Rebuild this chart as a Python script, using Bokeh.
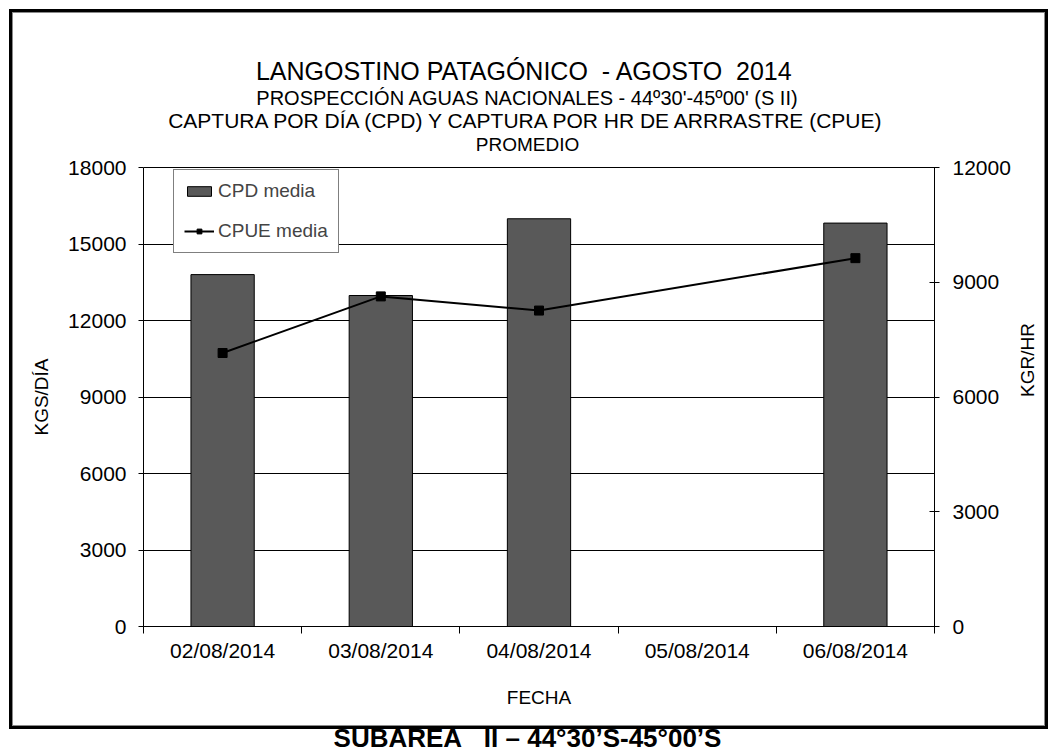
import math
import numpy as np
from bokeh.plotting import figure
from bokeh.models import (Range1d, LinearAxis, FixedTicker, Legend, LegendItem,
                          ColumnDataSource, Title, InlineStyleSheet)
from bokeh.embed import file_html
from bokeh.resources import INLINE

# ---------------- data ----------------
dates = ["02/08/2014", "03/08/2014", "04/08/2014", "05/08/2014", "06/08/2014"]
cpd_media = [13800, 12980, 15990, None, 15820]      # KGS/DÍA (left axis)
cpue_media = [7150, 8630, 8260, None, 9630]         # KGR/HR (right axis)
left_ticks = [0, 3000, 6000, 9000, 12000, 15000, 18000]
right_ticks = [0, 3000, 6000, 9000, 12000]

NB = "\u00a0"
title_lines = ["LANGOSTINO PATAGÓNICO" + NB + " - AGOSTO" + NB + " 2014",
               "PROSPECCIÓN AGUAS NACIONALES - 44º30'-45º00' (S II)",
               "CAPTURA POR DÍA (CPD) Y CAPTURA POR HR DE ARRRASTRE (CPUE)",
               "PROMEDIO"]
footer = "SUBAREA" + NB + NB + " II – 44°30’S-45°00’S"

FONT = "Liberation Sans"
TICK_FS = "21px"
AXLAB_FS = "19px"

# Arial/Liberation Sans advance widths (1/1000 em) used to centre the titles
_W = {" ": 278, NB: 278, "(": 333, ")": 333, "'": 191, "-": 333, "/": 278, "º": 365,
      "°": 400, "’": 222, "–": 556, "Ó": 778, "Í": 278}
_W.update({d: 556 for d in "0123456789"})
_W.update(dict(zip("ABCDEFGHIJKLMNOPQRSTUVWXYZ",
                   [667, 667, 722, 722, 667, 611, 778, 722, 278, 500, 667, 556, 833,
                    722, 778, 667, 778, 722, 667, 611, 722, 667, 944, 667, 667, 611])))
_WB = dict(_W)
_WB.update({"B": 722, "A": 722, "R": 722, "U": 722, "’": 278})


def text_width(t, size, table=_W):
    return sum(table.get(c, 600) for c in t) * size / 1000.0


# ---------------- figure ----------------
W, H = 1051, 753
FL, FR, FT, FB = 143, 937, 167, 626   # frame edges in pixels
CENTER_X = 527                         # centre of the titles

centers = [i + 0.5 for i in range(len(dates))]
cpd_arr = np.array([np.nan if v is None else v for v in cpd_media], dtype=float)
bar_src = ColumnDataSource(dict(x=centers, top=cpd_arr))
line_src = ColumnDataSource(dict(
    x=[c for c, v in zip(centers, cpue_media) if v is not None],
    y=[v for v in cpue_media if v is not None]))

p = figure(width=W, height=H, output_backend="svg", toolbar_location=None,
           x_range=Range1d(0, len(dates)), y_range=Range1d(0, 18000),
           min_border_left=FL, min_border_right=W - FR,
           min_border_top=FT, min_border_bottom=H - FB)
p.extra_y_ranges = {"cpue": Range1d(0, 12000)}
p.background_fill_color = "white"
p.border_fill_color = "white"
p.outline_line_color = "black"
p.outline_line_width = 1

# grid
p.xgrid.grid_line_color = None
p.ygrid.ticker = FixedTicker(ticks=left_ticks)
p.ygrid.grid_line_color = "black"
p.ygrid.grid_line_width = 1

# bars
bars = p.vbar(x="x", top="top", width=0.4, source=bar_src,
              fill_color="#595959", line_color="black", line_width=1)
# line
ln = p.line(x="x", y="y", source=line_src, y_range_name="cpue",
            line_color="black", line_width=2)
mk = p.scatter(x="x", y="y", source=line_src, y_range_name="cpue",
               marker="square", size=9, fill_color="black", line_color="black")

# x axis
xa = p.xaxis[0]
xa.ticker = FixedTicker(ticks=centers, minor_ticks=list(range(len(dates) + 1)))
xa.major_label_overrides = {c: d for c, d in zip(centers, dates)}
xa.major_tick_in = 0
xa.major_tick_out = 0
xa.minor_tick_in = 0
xa.minor_tick_out = 7
xa.minor_tick_line_color = "black"
xa.axis_line_color = "black"
xa.major_label_standoff = 5
xa.major_label_text_font = FONT
xa.major_label_text_font_size = TICK_FS
xa.major_label_text_color = "black"
xa.axis_label = "FECHA"
xa.axis_label_text_font = FONT
xa.axis_label_text_font_size = AXLAB_FS
xa.axis_label_text_font_style = "normal"
xa.axis_label_text_color = "black"
xa.axis_label_standoff = 22

# left axis
ya = p.yaxis[0]
ya.ticker = FixedTicker(ticks=left_ticks)
ya.major_tick_in = 0
ya.major_tick_out = 5
ya.minor_tick_out = 0
ya.minor_tick_in = 0
ya.major_tick_line_color = "black"
ya.axis_line_color = "black"
ya.major_label_standoff = 12
ya.major_label_text_font = FONT
ya.major_label_text_font_size = TICK_FS
ya.major_label_text_color = "black"
ya.axis_label = "KGS/DÍA"
ya.axis_label_text_font = FONT
ya.axis_label_text_font_size = AXLAB_FS
ya.axis_label_text_font_style = "normal"
ya.axis_label_text_color = "black"
ya.axis_label_standoff = 13

# right axis
ra = LinearAxis(y_range_name="cpue", ticker=FixedTicker(ticks=right_ticks),
                major_tick_in=5, major_tick_out=5, minor_tick_in=0, minor_tick_out=0,
                major_label_standoff=13,
                major_label_text_font=FONT, major_label_text_font_size=TICK_FS,
                major_label_text_color="black",
                axis_label="KGR/HR", axis_label_text_font=FONT,
                axis_label_text_font_size=AXLAB_FS, axis_label_text_font_style="normal",
                axis_label_text_color="black", axis_label_standoff=14,
                axis_label_orientation=math.pi / 2)
p.add_layout(ra, "right")

# legend
legend = Legend(items=[LegendItem(label="CPD media", renderers=[bars]),
                       LegendItem(label="CPUE media", renderers=[ln, mk])],
                location=(30, 373), orientation="vertical",
                border_line_color="black", border_line_width=1,
                background_fill_color="white", background_fill_alpha=1,
                label_text_font=FONT, label_text_font_size="19px",
                glyph_width=30, glyph_height=12, label_height=20,
                label_standoff=4, spacing=18, padding=10, margin=0)
p.add_layout(legend, "center")


def spacer(px):
    """Invisible axis (white tick on white, no label) that only reserves pixels."""
    return LinearAxis(ticker=FixedTicker(ticks=[0]), major_tick_out=px, major_tick_in=0,
                      minor_tick_out=0, minor_tick_in=0, major_label_standoff=0,
                      axis_line_color=None, major_tick_line_color="white",
                      major_tick_line_width=1, minor_tick_line_color=None,
                      major_label_text_color=None, major_label_text_font_size="1px")


# titles above (first added = closest to the frame)
p.add_layout(spacer(13), "above")
title_specs = [(title_lines[3], 19, 0), (title_lines[2], 21, 0),
               (title_lines[1], 20, -4), (title_lines[0], 25, 4)]
for t, fs, so in title_specs:
    off = CENTER_X - text_width(t, fs) / 2 - FL
    p.add_layout(Title(text=t, align="left", offset=off, standoff=so,
                       text_font=FONT, text_font_size=f"{fs}px",
                       text_font_style="normal", text_color="black"), "above")

# footer below the chart
p.add_layout(spacer(10), "below")
foot_fs = 26
p.add_layout(Title(text=footer, align="left",
                   offset=CENTER_X - text_width(footer, foot_fs, _WB) / 2 - FL,
                   standoff=0, text_font=FONT, text_font_size=f"{foot_fs}px",
                   text_font_style="bold", text_color="black"), "below")

# outer double frame around the chart (black + thin grey line inside)
css = """
:host { position: relative; }
:host::after {
  content: "";
  position: absolute;
  left: 9px; top: 9px; width: 1039px; height: 720px;
  box-sizing: border-box;
  border: 3px solid #000000;
  box-shadow: inset 0 0 0 1px #8a8a8a;
  pointer-events: none;
  z-index: 10;
}
"""
p.stylesheets = [InlineStyleSheet(css=css)]

open("out.html", "w").write(file_html(p, INLINE))
